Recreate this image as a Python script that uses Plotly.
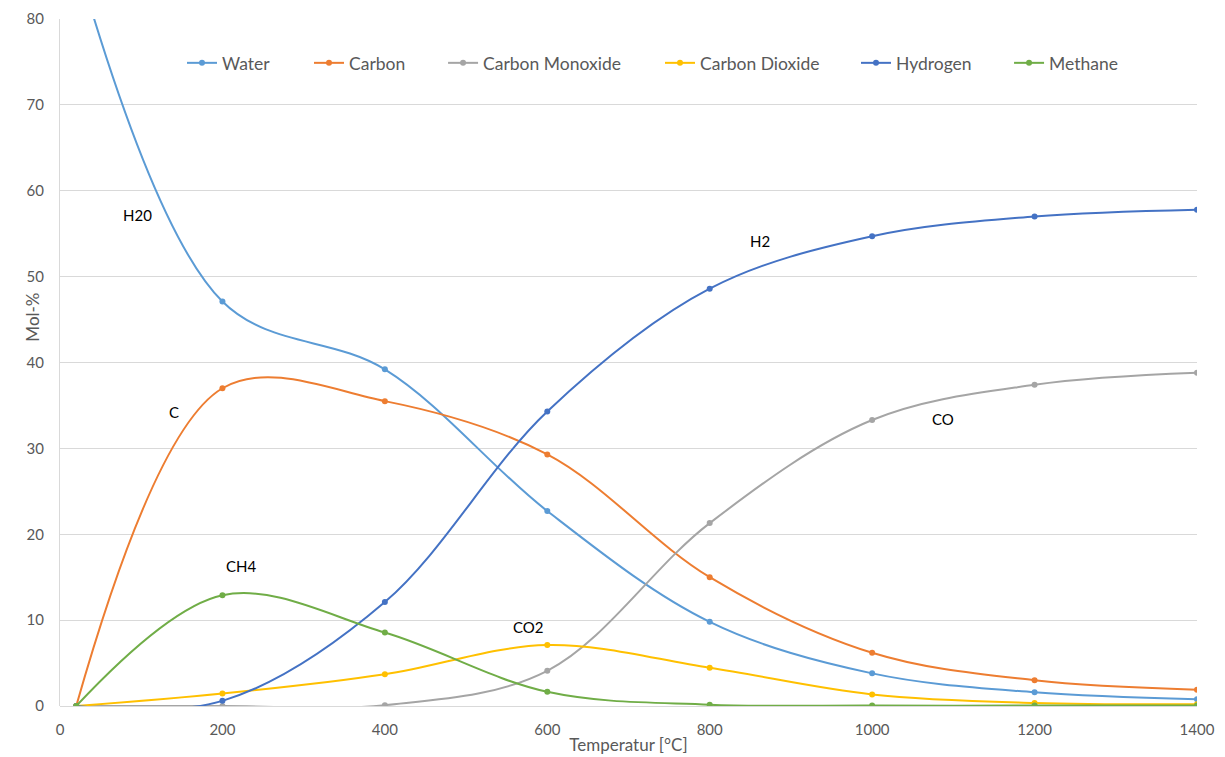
import plotly.graph_objects as go

temps = [20, 200, 400, 600, 800, 1000, 1200, 1400]
water = [87.0, 47.1, 39.2, 22.7, 9.8, 3.8, 1.6, 0.8]
carbon = [0.0, 37.0, 35.5, 29.3, 15.0, 6.2, 3.0, 1.9]
carbon_monoxide = [0.0, 0.0, 0.1, 4.1, 21.3, 33.3, 37.4, 38.8]
carbon_dioxide = [0.0, 1.45, 3.7, 7.1, 4.45, 1.35, 0.35, 0.2]
hydrogen = [0.0, 0.6, 12.1, 34.3, 48.6, 54.7, 57.0, 57.8]
methane = [0.0, 12.9, 8.55, 1.65, 0.16, 0.05, 0.05, 0.05]

series_names = ["Water", "Carbon", "Carbon Monoxide", "Carbon Dioxide", "Hydrogen", "Methane"]
series_values = [water, carbon, carbon_monoxide, carbon_dioxide, hydrogen, methane]
series_colors = ["#5B9BD5", "#ED7D31", "#A5A5A5", "#FFC000", "#4472C4", "#70AD47"]
legend_x = [0.1073, 0.2190, 0.3369, 0.5277, 0.7001, 0.8347]

labels = ["H20", "C", "CH4", "CO2", "H2", "CO"]
label_x = [96, 140, 223, 577, 862, 1087]
label_y = [57.2, 34.2, 16.3, 9.2, 54.2, 33.4]

x_ticks = [0, 200, 400, 600, 800, 1000, 1200, 1400]
y_ticks = [0, 10, 20, 30, 40, 50, 60, 70, 80]

FONT = "Lato, 'Open Sans', sans-serif"
GREY = "#595959"

fig = go.Figure()
legend_layout = {}
for i, (name, vals, col, lx) in enumerate(zip(series_names, series_values, series_colors, legend_x)):
    key = "legend" if i == 0 else f"legend{i + 1}"
    fig.add_trace(go.Scatter(
        x=temps, y=vals, name=name, mode="lines+markers",
        line=dict(color=col, width=2, shape="spline", smoothing=1.0),
        marker=dict(color=col, size=6),
        legend=key,
    ))
    legend_layout[key] = dict(
        x=lx, xanchor="left", y=0.936, yanchor="middle",
        orientation="h", font=dict(family=FONT, size=17.5, color=GREY),
        bgcolor="rgba(0,0,0,0)", itemwidth=30,
    )

for t, lx, ly in zip(labels, label_x, label_y):
    fig.add_annotation(x=lx, y=ly, text=t, showarrow=False,
                       font=dict(family=FONT, size=15, color="#000000"))

fig.add_annotation(xref="paper", yref="paper", x=-0.0352, y=0.566, text="Mol-%",
                   textangle=-90, showarrow=False,
                   font=dict(family=FONT, size=17, color=GREY))

fig.update_layout(
    width=1217, height=749,
    margin=dict(l=52, r=28, t=11, b=51, autoexpand=False),
    paper_bgcolor="white", plot_bgcolor="white",
    font=dict(family=FONT, size=14, color=GREY),
    showlegend=True,
    **legend_layout,
)
fig.update_xaxes(
    range=[0, 1400], tickvals=x_ticks, ticktext=[str(v) for v in x_ticks],
    showgrid=False, zeroline=False, showline=False,
    ticks="", ticklabelstandoff=13, tickfont=dict(size=15, color=GREY),
    title=dict(text="Temperatur [°C]", font=dict(size=17, color=GREY), standoff=2),
)
fig.update_yaxes(
    range=[0, 80], tickvals=y_ticks, ticktext=[str(v) for v in y_ticks],
    showgrid=True, gridcolor="#D9D9D9", gridwidth=1,
    zeroline=True, zerolinecolor="#D9D9D9", zerolinewidth=1,
    showline=True, linecolor="#D9D9D9", linewidth=1,
    ticks="", ticklabelstandoff=12, tickfont=dict(size=15, color=GREY),
)

fig.write_html("out.html")
